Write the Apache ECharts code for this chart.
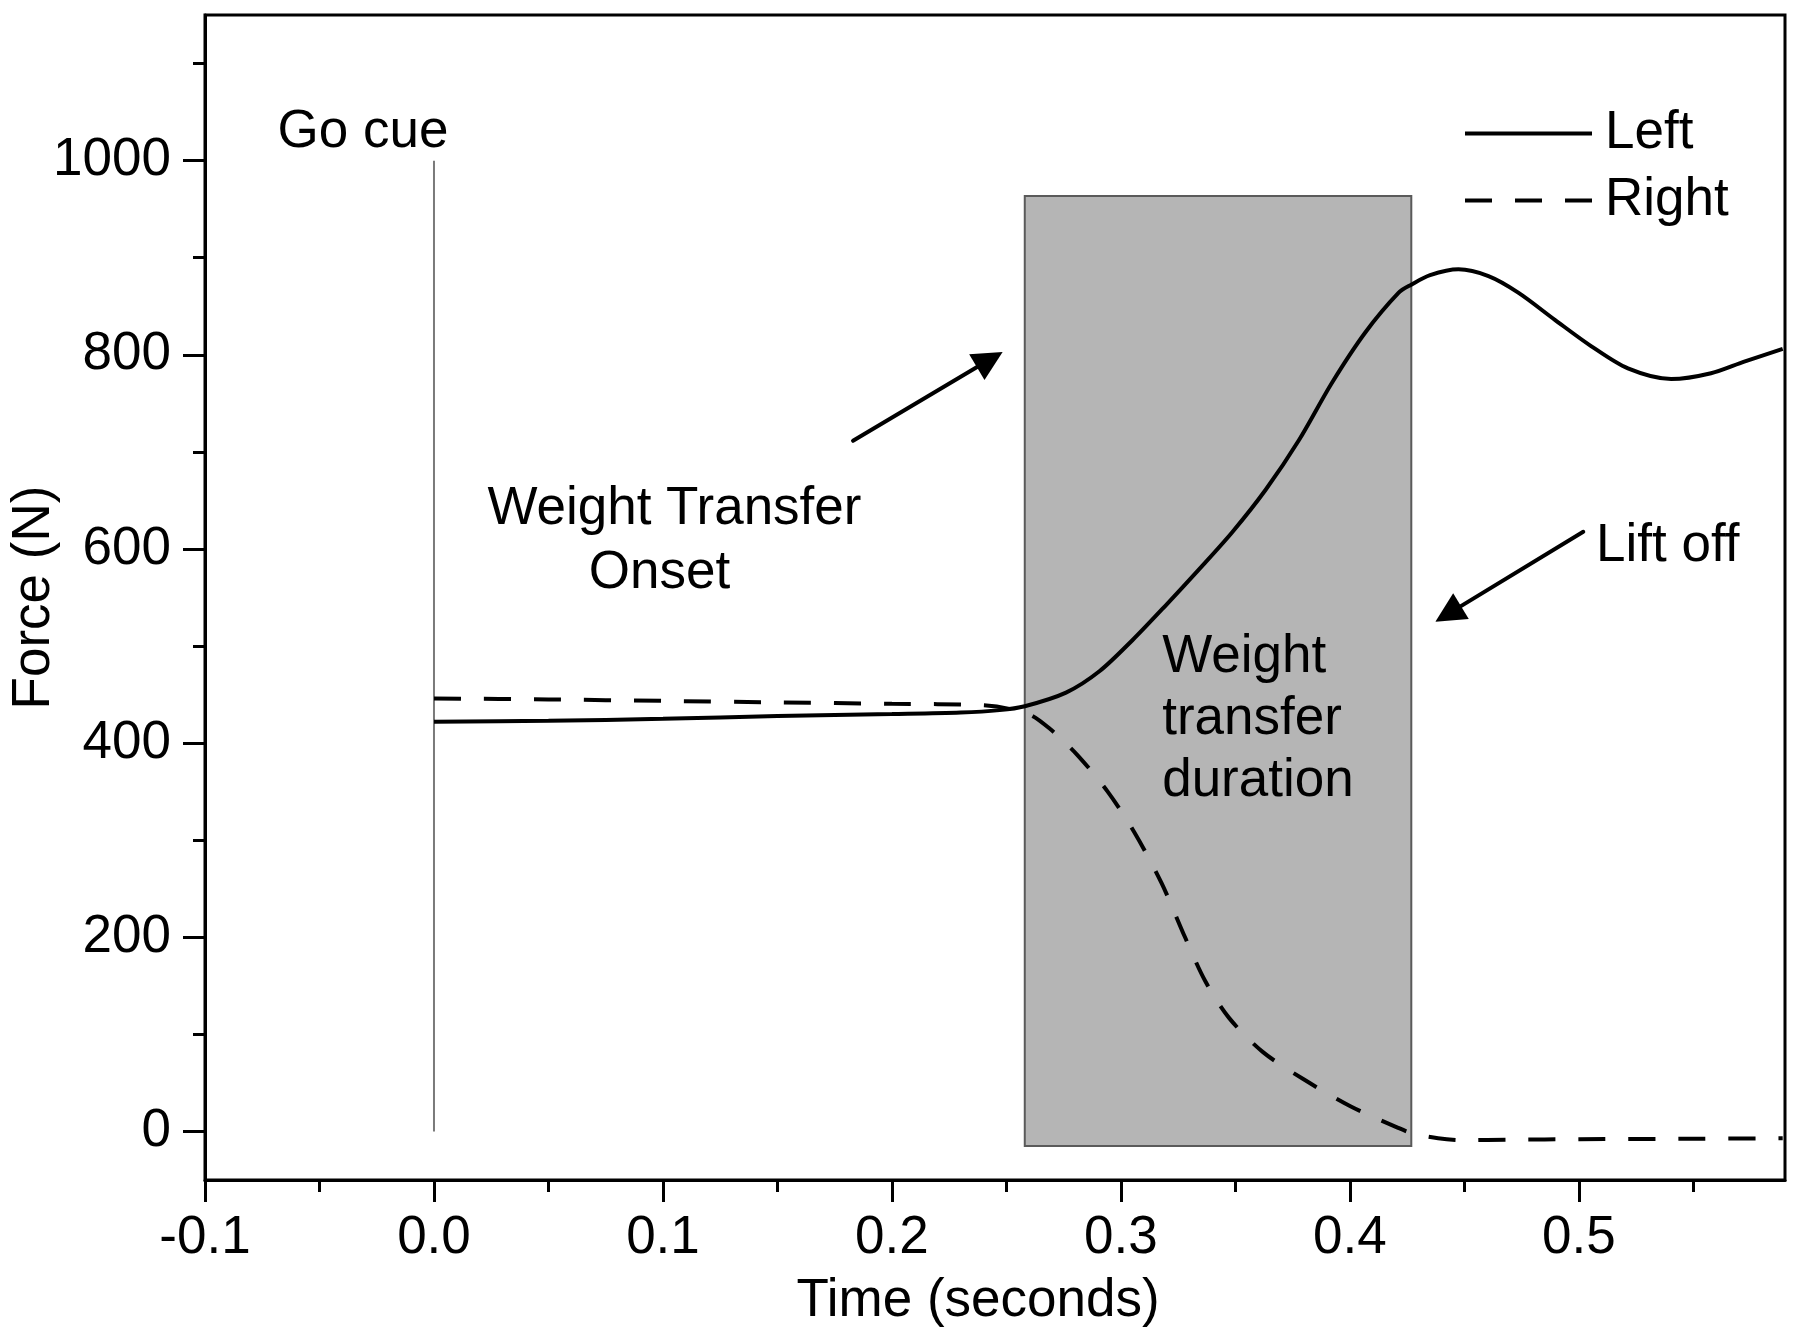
<!DOCTYPE html>
<html>
<head>
<meta charset="utf-8">
<script src="https://cdn.jsdelivr.net/npm/echarts@6/dist/echarts.min.js"></script>
<style>
html,body{margin:0;padding:0;background:#fff;}
#chart{width:1800px;height:1338px;}
</style>
</head>
<body>
<div id="chart"></div>
<script>
// ---- data ----
const leftTime  = [0, 0.05, 0.1, 0.15, 0.2, 0.23, 0.247, 0.258, 0.276, 0.2906, 0.305, 0.3196, 0.3341, 0.3485, 0.3632, 0.3777, 0.3921, 0.4067, 0.4213, 0.4266, 0.435, 0.4474, 0.4605, 0.4735, 0.4895, 0.5053, 0.5214, 0.5403, 0.5577, 0.5722, 0.589];
const leftForce = [422, 423, 425, 428, 430, 431.5, 434, 438, 452, 474, 506, 542, 579, 617, 661, 712, 771, 823, 864, 872, 882, 888, 881, 864, 836, 809, 786, 775, 781, 793, 806];

const rightTime  = [0, 0.05, 0.1, 0.15, 0.2, 0.24, 0.2595, 0.2691, 0.2809, 0.2942, 0.3059, 0.3177, 0.328, 0.3368, 0.3472, 0.3619, 0.3796, 0.4002, 0.4208, 0.4273, 0.4385, 0.45, 0.47, 0.5, 0.55, 0.589];
const rightForce = [446, 445, 443.5, 442, 440.5, 439, 430, 414.5, 388, 350, 308, 256, 200, 155, 117, 82, 54, 26, 4, -2, -7, -9, -8.5, -8, -7.5, -7];

const goCueTime = [0, 0];
const goCueForce = [0, 1000];

const transferWindow = [0.258, 0.4268];   // time span of shaded box
const transferForceSpan = [-15, 963.5];   // vertical span of shaded box

const xTickValues  = [-0.1, 0, 0.1, 0.2, 0.3, 0.4, 0.5];
const xMinorValues = [-0.05, 0.05, 0.15, 0.25, 0.35, 0.45, 0.55];
const yTickValues  = [0, 200, 400, 600, 800, 1000];
const yMinorValues = [100, 300, 500, 700, 900, 1100];

const seriesNames = ['Left', 'Right'];

// annotation anchors (data space)
const centeredTexts  = ['Go cue', 'Weight Transfer', 'Onset'];
const centeredCoords = [[-0.031, 1029], [0.105, 640.5], [0.0985, 574.5]];
const leftAlignedTexts  = ['Weight\ntransfer\nduration', 'Lift off'];
const leftAlignedCoords = [[0.318, 424.5], [0.5075, 603]];
const arrowTails = [[0.183, 711.4], [0.5019, 617.7]];
const arrowHeads = [[0.2427, 795.1], [0.4429, 533.1]];

// ---- chart ----
const FONT = 'Liberation Sans, Arial, sans-serif';
const FS = 53;
const chart = echarts.init(document.getElementById('chart'), null, {renderer: 'canvas'});

const zip = (a, b) => a.map((v, i) => [v, b[i]]);

const baseX = {
  type: 'value', min: -0.1, max: 0.59, gridIndex: 0, position: 'bottom',
  splitLine: {show: false}, minorTick: {show: false}
};
const baseY = {
  type: 'value', min: -50, max: 1150, gridIndex: 0, position: 'left',
  splitLine: {show: false}, minorTick: {show: false}
};

const labelBase = {show: true, formatter: '{b}', fontFamily: FONT, fontSize: FS, color: '#000', opacity: 1};

const option = {
  animation: false,
  backgroundColor: '#fff',
  textStyle: {fontFamily: FONT, color: '#000'},
  grid: {left: 204, right: 15, top: 15, bottom: 158, show: true, borderColor: '#000', borderWidth: 3, backgroundColor: 'transparent', containLabel: false},
  legend: {
    data: seriesNames, orient: 'vertical', left: 1463, top: 107, padding: 0,
    itemWidth: 127, itemHeight: 4, itemGap: 14, selectedMode: false,
    lineStyle: {width: 4},
    textStyle: {fontFamily: FONT, fontSize: FS, lineHeight: 53, color: '#000', padding: [0, 0, 0, 8]}
  },
  xAxis: [
    Object.assign({}, baseX, {
      name: 'Time (seconds)', nameLocation: 'middle', nameGap: 95, nameMoveOverlap: false,
      nameTextStyle: {fontFamily: FONT, fontSize: FS, color: '#000', padding: [0, 34, 0, 0]},
      axisLine: {show: true, onZero: false, lineStyle: {color: '#000', width: 3}},
      axisTick: {show: true, inside: false, length: 22, lineStyle: {color: '#000', width: 3}, customValues: xTickValues},
      axisLabel: {show: true, margin: 32, fontFamily: FONT, fontSize: FS, color: '#000', customValues: xTickValues,
        formatter: v => (+v).toFixed(1)}
    }),
    Object.assign({}, baseX, {
      axisLine: {show: false, onZero: false},
      axisTick: {show: true, inside: false, length: 12, lineStyle: {color: '#000', width: 3}, customValues: xMinorValues},
      axisLabel: {show: false}
    })
  ],
  yAxis: [
    Object.assign({}, baseY, {
      name: 'Force (N)', nameLocation: 'middle', nameGap: 144, nameMoveOverlap: false,
      nameTextStyle: {fontFamily: FONT, fontSize: FS, color: '#000'},
      axisLine: {show: true, onZero: false, lineStyle: {color: '#000', width: 3}},
      axisTick: {show: true, inside: false, length: 22, lineStyle: {color: '#000', width: 3}, customValues: yTickValues},
      axisLabel: {show: true, margin: 34, fontFamily: FONT, fontSize: FS, color: '#000', customValues: yTickValues,
        formatter: v => String(Math.round(v))}
    }),
    Object.assign({}, baseY, {
      axisLine: {show: false, onZero: false},
      axisTick: {show: true, inside: false, length: 12, lineStyle: {color: '#000', width: 3}, customValues: yMinorValues},
      axisLabel: {show: false}
    })
  ],
  series: [
    {
      name: 'Go cue', type: 'line', z: 1, silent: true,
      data: zip(goCueTime, goCueForce), symbol: 'none',
      lineStyle: {color: '#7a7a7a', width: 2},
      markArea: {
        silent: true,
        itemStyle: {color: '#b5b5b5', borderColor: '#5a5a5a', borderWidth: 2, opacity: 1},
        label: {show: false},
        data: [[{coord: [transferWindow[0], transferForceSpan[0]]}, {coord: [transferWindow[1], transferForceSpan[1]]}]]
      },
      markLine: {
        silent: true, symbol: ['none', 'triangle'], symbolSize: 30,
        label: {show: false},
        lineStyle: {color: '#000', width: 4, type: 'solid', cap: 'round'},
        emphasis: {disabled: true},
        data: arrowTails.map((t, i) => [{coord: t}, {coord: arrowHeads[i]}])
      }
    },
    {
      name: 'Left', type: 'line', z: 10, silent: true,
      data: zip(leftTime, leftForce), symbol: 'none', smooth: 0.3,
      lineStyle: {color: '#000', width: 4},
      itemStyle: {color: '#000'}
    },
    {
      name: 'Right', type: 'line', z: 10, silent: true,
      data: zip(rightTime, rightForce), symbol: 'none', smooth: 0.3,
      lineStyle: {color: '#000', width: 4, type: [27, 23]},
      itemStyle: {color: '#000'}
    },
    {
      name: 'labels-centered', type: 'scatter', z: 12, silent: true, symbolSize: 0,
      itemStyle: {opacity: 1, color: '#000'},
      data: centeredTexts.map((t, i) => ({name: t, value: centeredCoords[i]})),
      label: Object.assign({}, labelBase, {position: 'inside'})
    },
    {
      name: 'labels-left', type: 'scatter', z: 12, silent: true, symbolSize: 0,
      itemStyle: {opacity: 1, color: '#000'},
      data: leftAlignedTexts.map((t, i) => ({name: t, value: leftAlignedCoords[i]})),
      label: Object.assign({}, labelBase, {position: 'right', distance: 0, align: 'left', lineHeight: 62})
    }
  ]
};
chart.setOption(option);
</script>
</body>
</html>
